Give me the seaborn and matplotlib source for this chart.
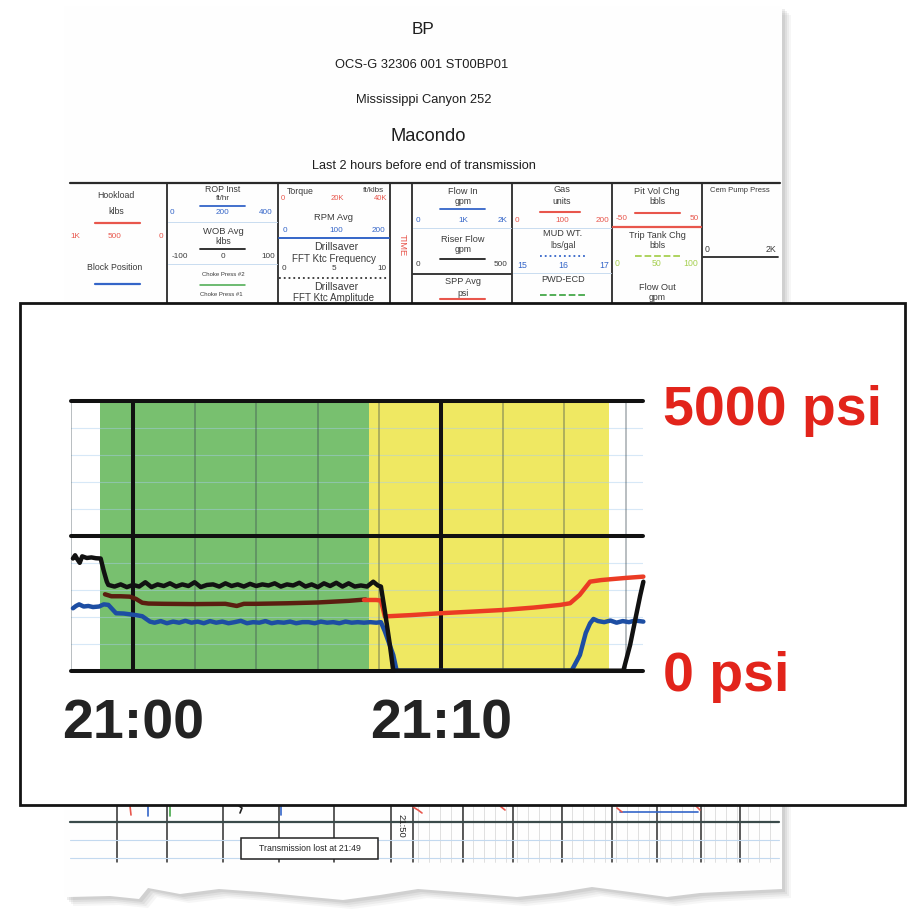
import numpy as np
import pandas as pd
import matplotlib
matplotlib.use("Agg")
import matplotlib.pyplot as plt
import matplotlib.transforms as mtransforms
import seaborn as sns
from matplotlib.patches import Rectangle, Polygon

# ------------------------------------------------------------------ data
# time in minutes relative to 21:00, pressure in psi
black_t = [-1.95, -1.88, -1.80, -1.73, -1.65, -1.50, -1.35, -1.20, -1.05, -0.95, -0.85,
           -0.80, -0.60, -0.40, -0.20, 0.00, 0.20, 0.40, 0.60, 0.80, 1.00, 1.20, 1.40,
           1.60, 1.80, 2.00, 2.20, 2.40, 2.60, 2.80, 3.00, 3.20, 3.40, 3.60, 3.80, 4.00,
           4.20, 4.40, 4.60, 4.80, 5.00, 5.20, 5.40, 5.60, 5.80, 6.00, 6.20, 6.40, 6.60,
           6.80, 7.00, 7.20, 7.40, 7.60, 7.80, 7.95, 8.05, 8.18, 8.34, 8.45,
           15.92, 16.14, 16.36, 16.47, 16.57]
black_p = [2080, 2140, 2060, 2000, 2120, 2090, 2100, 2085, 2080, 1850, 1650,
           1590, 1560, 1600, 1550, 1590, 1560, 1640, 1550, 1600, 1570, 1620, 1560,
           1600, 1570, 1640, 1550, 1590, 1600, 1560, 1620, 1570, 1600, 1560, 1610, 1570,
           1600, 1580, 1620, 1560, 1600, 1580, 1630, 1560, 1600, 1550, 1620, 1570, 1630,
           1560, 1620, 1560, 1580, 1560, 1650, 1580, 1560, 1094, 477, 0,
           0, 477, 1094, 1400, 1650]

brown_t = [-0.91, -0.70, -0.40, -0.10, 0.10, 0.30, 0.50, 1.00, 2.00, 3.00, 3.37, 3.60,
           4.00, 5.00, 6.00, 7.00, 7.55]
brown_p = [1417, 1380, 1380, 1373, 1330, 1260, 1245, 1240, 1235, 1240, 1200, 1240,
           1240, 1250, 1265, 1295, 1320]

red_t = [7.50, 7.90, 8.05, 8.18, 8.30, 9.00, 9.97, 11.00, 12.02, 13.00, 13.86, 14.19,
         14.50, 14.84, 15.20, 15.49, 16.00, 16.57]
red_p = [1311, 1311, 1300, 1002, 1010, 1030, 1065, 1095, 1126, 1170, 1219, 1250,
         1404, 1651, 1680, 1695, 1720, 1744]

blue_t = [-1.95, -1.85, -1.75, -1.60, -1.45, -1.30, -1.10, -0.95, -0.80, -0.55, -0.30,
          0.10, 0.30, 0.55, 0.70, 0.90, 1.10, 1.30, 1.50, 1.70, 1.90, 2.10, 2.30, 2.50,
          2.70, 2.90, 3.10, 3.30, 3.50, 3.70, 3.90, 4.10, 4.30, 4.50, 4.70, 4.90, 5.10,
          5.30, 5.50, 5.70, 5.90, 6.10, 6.30, 6.50, 6.70, 6.90, 7.10, 7.30, 7.50, 7.70,
          7.90, 8.05, 8.18, 8.45, 8.56, 14.24, 14.51, 14.70, 14.84, 14.95, 15.10, 15.30,
          15.50, 15.70, 15.90, 16.10, 16.30, 16.57]
blue_p = [1157, 1200, 1230, 1190, 1200, 1180, 1190, 1230, 1220, 1065, 1060,
          1030, 1010, 910, 890, 920, 880, 910, 890, 925, 890, 910, 880, 920,
          890, 910, 880, 900, 925, 880, 900, 890, 920, 880, 900, 890, 910,
          880, 900, 900, 880, 910, 890, 900, 880, 910, 890, 900, 890, 900,
          890, 900, 724, 291, 0, 0, 291, 700, 879, 959, 920, 900,
          930, 890, 920, 900, 930, 910]

green_phase = (-1.07, 7.66)
yellow_phase = (7.66, 15.45)
x_range = (-2.0, 16.55)
y_range = (0, 5000)
x_ticks = [0, 10]
x_tick_labels = ["21:00", "21:10"]
y_ticks = [0, 5000]
y_tick_labels = ["0 psi", "5000 psi"]

# ------------------------------------------------------------------ style
sns.set_style("white")
plt.rcParams['font.family'] = ['Liberation Sans', 'DejaVu Sans']
DOC = ['Liberation Sans', 'DejaVu Sans']

W, H = 909, 919
fig = plt.figure(figsize=(W / 100, H / 100), dpi=100)
fig.patch.set_facecolor('white')

bg = fig.add_axes([0, 0, 1, 1])
bg.set_xlim(0, W)
bg.set_ylim(H, 0)
bg.axis('off')

# ---- page with torn bottom edge and shadow
torn = [(782, 889), (740, 891), (700, 893), (667, 897), (630, 892), (592, 887),
        (555, 893), (517, 897), (470, 893), (418, 889), (380, 895), (343, 900),
        (300, 896), (260, 892), (219, 889), (180, 894), (148, 888), (139, 899),
        (110, 896), (70, 897), (64, 897)]
page = [(64, 6), (782, 6)] + torn
for k, a in [(9, 0.06), (7, 0.08), (5, 0.10), (3, 0.12)]:
    bg.add_patch(Polygon([(x + k, y + k) for x, y in page], closed=True,
                         fc='#6d6d6d', ec='none', alpha=a, zorder=0))
bg.add_patch(Polygon(page, closed=True, fc='#fefefe', ec='none', zorder=1))

TXT = '#3b3b3b'
# ---- titles
titles = [("BP", 423, 29, 12.3), ("OCS-G 32306 001 ST00BP01", 422, 65.5, 9.3),
          ("Mississippi Canyon 252", 424, 100, 9.3), ("Macondo", 428, 136.5, 13.2),
          ("Last 2 hours before end of transmission", 424, 166, 9.2)]
for s, x, y, fs in titles:
    bg.text(x, y, s, ha='center', va='center', fontsize=fs, color='#1e1e1e',
            family=DOC, zorder=2)

# ---- header table
bg.plot([70, 780], [183, 183], color='#2a2a2a', lw=1.6, zorder=2)
for x in [167, 278, 390, 412, 512, 612, 702]:
    bg.plot([x, x], [183, 305], color='#2a2a2a', lw=1.3, zorder=2)
RED, BLU, GRN, LGRN = '#e8564c', '#3465c8', '#46a84a', '#a7d052'
SC = 0.84
hdr = [
    ("Hookload", 116, 195, TXT, 7.5), ("klbs", 116, 211, TXT, 7.5),
    ("1K", 75, 237, RED, 7), ("500", 115, 237, RED, 7), ("0", 161, 237, RED, 7),
    ("Block Position", 115, 267, TXT, 7.5),
    ("ROP Inst", 223, 189, TXT, 7.5), ("ft/hr", 223, 198, TXT, 7),
    ("0", 172, 213, BLU, 7), ("200", 223, 213, BLU, 7), ("400", 266, 213, BLU, 7),
    ("WOB Avg", 223, 232, TXT, 8), ("klbs", 223, 241, TXT, 7.5),
    ("-100", 180, 256, TXT, 7), ("0", 223, 256, TXT, 7), ("100", 268, 256, TXT, 7),
    ("Choke Press #2", 223, 275, TXT, 5.2), ("Choke Press #1", 221, 295, TXT, 5.2),
    ("RPM Avg", 334, 217, TXT, 8),
    ("0", 285, 230, BLU, 7), ("100", 336, 230, BLU, 7), ("200", 378, 230, BLU, 7),
    ("Drillsaver", 336, 247, TXT, 9), ("FFT Ktc Frequency", 334, 259, TXT, 8.5),
    ("0", 284, 269, TXT, 7), ("5", 334, 269, TXT, 7), ("10", 382, 269, TXT, 7),
    ("Drillsaver", 336, 287, TXT, 9), ("FFT Ktc Amplitude", 334, 298, TXT, 8.5),
    ("0", 283, 199, RED, 6.5), ("20K", 337, 199, RED, 6.5), ("40K", 381, 199, RED, 6.5),
    ("Torque", 300, 191, TXT, 7.5), ("ft/klbs", 373, 191, TXT, 7),
    ("Flow In", 463, 191, TXT, 7.8), ("gpm", 463, 201, TXT, 7.5),
    ("0", 418, 220, BLU, 7), ("1K", 463, 220, BLU, 7), ("2K", 503, 220, BLU, 7),
    ("Riser Flow", 463, 240, TXT, 7.8), ("gpm", 463, 250, TXT, 7.5),
    ("0", 418, 265, TXT, 7), ("500", 501, 265, TXT, 7),
    ("SPP Avg", 463, 281, TXT, 7.8), ("psi", 463, 293, TXT, 7.5),
    ("Gas", 562, 190, TXT, 7.8), ("units", 562, 202, TXT, 7.5),
    ("0", 517, 220, RED, 7), ("100", 562, 220, RED, 7), ("200", 602, 220, RED, 7),
    ("MUD WT.", 563, 234, TXT, 7.8), ("lbs/gal", 563, 245, TXT, 7.5),
    ("15", 522, 265, BLU, 7.5), ("16", 563, 265, BLU, 7.5), ("17", 604, 265, BLU, 7.5),
    ("PWD-ECD", 563, 280, TXT, 7.8),
    ("Pit Vol Chg", 657, 191, TXT, 7.8), ("bbls", 657, 202, TXT, 7.5),
    ("-50", 622, 218, RED, 7), ("50", 694, 218, RED, 7),
    ("Trip Tank Chg", 657, 235, TXT, 7.8), ("bbls", 657, 246, TXT, 7.5),
    ("0", 617, 263, LGRN, 7.5), ("50", 657, 263, LGRN, 7.5), ("100", 691, 263, LGRN, 7.5),
    ("Flow Out", 657, 287, TXT, 7.8), ("gpm", 657, 298, TXT, 7.5),
    ("Cem Pump Press", 740, 190, TXT, 6.6), ("0", 707, 250, TXT, 7.5), ("2K", 771, 250, TXT, 7.5),
]
for s, x, y, c, fs in hdr:
    bg.text(x, y, s, ha='center', va='center', fontsize=fs * SC, color=c,
            family=DOC, zorder=2)
bg.text(402, 245, "TIME", ha='center', va='center', fontsize=8 * SC, color=RED,
        rotation=-90, family=DOC, zorder=2)

hlines = [  # (x0, x1, y, color, lw, style)
    (95, 140, 223, RED, 1.6, '-'), (95, 140, 284, BLU, 1.6, '-'),
    (200, 245, 206, BLU, 1.3, '-'), (168, 277, 222, '#c9dcf0', 0.7, '-'),
    (200, 245, 249, '#222222', 1.3, '-'), (168, 277, 264, '#c9dcf0', 0.7, '-'),
    (200, 245, 285, GRN, 1.1, '-'),
    (279, 389, 238, BLU, 1.4, '-'), (279, 389, 278, '#333333', 1.3, ':'),
    (440, 485, 209, BLU, 1.3, '-'), (413, 511, 228, '#c9dcf0', 0.7, '-'),
    (440, 485, 259, '#222222', 1.3, '-'), (413, 511, 274, '#2a2a2a', 1.3, '-'),
    (440, 485, 299, RED, 1.5, '-'),
    (540, 580, 212, RED, 1.5, '-'), (513, 611, 228, '#c9dcf0', 0.7, '-'),
    (540, 585, 256, BLU, 1.3, ':'), (513, 611, 273, '#c9dcf0', 0.7, '-'),
    (540, 585, 295, GRN, 1.3, '--'),
    (635, 680, 213, RED, 1.5, '-'), (613, 701, 227, RED, 1.6, '-'),
    (635, 680, 256, LGRN, 1.3, '--'), (703, 778, 257, '#2a2a2a', 1.3, '-'),
]
for x0, x1, y, c, lw, ls in hlines:
    bg.plot([x0, x1], [y, y], color=c, lw=lw, ls=ls, zorder=2)

# ---- document chart grid visible below the inset
for x in np.arange(418, 780, 11):
    bg.plot([x, x], [805, 862], color='#d4d4d4', lw=0.5, zorder=2)
for x in [117, 167, 223, 279, 334, 391, 413, 463, 513, 562, 612, 657, 701, 740]:
    bg.plot([x, x], [805, 862], color='#2e2e2e', lw=1.1, zorder=2)
bg.plot([70, 779], [822, 822], color='#3a4a4a', lw=1.6, zorder=2)
for y in [840, 858]:
    bg.plot([70, 779], [y, y], color='#c3d9ef', lw=0.8, zorder=2)
bg.add_patch(Rectangle((241, 838), 137, 21, fc='white', ec='#222222', lw=1.1, zorder=3))
bg.text(309.5, 848.5, "Transmission lost at 21:49", ha='center', va='center',
        fontsize=6.3, color='#262626', family=DOC, zorder=4)
bg.text(401, 826, "21:50", ha='center', va='center', fontsize=6.8, color='#262626',
        rotation=-90, family=DOC, zorder=4)
marks = [([130, 131], [806, 815], RED), ([148, 148], [806, 816], BLU),
         ([170, 170], [806, 816], GRN), ([239, 242, 240], [806, 808, 813], '#222222'),
         ([281, 281], [806, 815], BLU), ([413, 418, 422], [807, 810, 813], RED),
         ([500, 505], [806, 810], RED), ([620, 698], [812, 812], BLU),
         ([617, 622], [808, 812], RED), ([696, 700], [806, 810], RED)]
for xs, ys, c in marks:
    bg.plot(xs, ys, color=c, lw=1.2, zorder=2)

# ---- inset frame
bg.add_patch(Rectangle((20, 303), 885, 502, fc='white', ec='#141414', lw=2.0, zorder=10))

# ------------------------------------------------------------------ main chart
PX = 30.8  # pixels per minute
left_px = 133 + x_range[0] * PX
width_px = (x_range[1] - x_range[0]) * PX
top_px, bot_px = 401.0, 670.7
ax = fig.add_axes([left_px / W, (H - bot_px) / H, width_px / W, (bot_px - top_px) / H])
ax.set_facecolor('white')
ax.patch.set_alpha(0)
for sp in ax.spines.values():
    sp.set_visible(False)
ax.set_xlim(*x_range)
ax.set_ylim(*y_range)

ax.axvspan(*green_phase, color='#78c06f', lw=0, zorder=1)
ax.axvspan(*yellow_phase, color='#efe862', lw=0, zorder=1)

for yv in np.arange(500, 5000, 500):
    if yv != 2500:
        ax.axhline(yv, color='#a8cdee', lw=0.8, alpha=0.45, zorder=2)
for xv in np.arange(-2, 17, 2):
    if xv not in (0, 10):
        ax.axvline(xv, color='#3a4a50', lw=1.2, alpha=0.42, zorder=2)
for yv in [0, 2500, 5000]:
    ax.axhline(yv, color='#111111', lw=2.9, zorder=3, clip_on=False)
for xv in x_ticks:
    ax.axvline(xv, color='#111111', lw=2.9, zorder=3)

series = [(brown_t, brown_p, '#5a1e10'), (red_t, red_p, '#eb3b24'),
          (blue_t, blue_p, '#1d4ea3'), (black_t, black_p, '#111111')]
for i, (tt, pp, c) in enumerate(series):
    df = pd.DataFrame({'t': tt, 'p': pp})
    sns.lineplot(data=df, x='t', y='p', ax=ax, color=c, lw=3.2, sort=False,
                 estimator=None, zorder=4 + i, clip_on=False)

ax.set_xlabel('')
ax.set_ylabel('')
ax.set_xticks(x_ticks)
ax.set_xticklabels(x_tick_labels, fontweight='bold')
ax.tick_params(axis='x', length=0, pad=20, labelsize=40, labelcolor='#232323')
ax.yaxis.tick_right()
ax.set_yticks(y_ticks)
ax.set_yticklabels(y_tick_labels, fontweight='bold')
ax.tick_params(axis='y', length=0, pad=14.5, labelsize=40, labelcolor='#e2241b')
# nudge the upper label slightly down, as in the original
top_lab = ax.get_yticklabels()[1]
top_lab.set_transform(top_lab.get_transform() +
                      mtransforms.ScaledTranslation(0, -4 / 100, fig.dpi_scale_trans))
ax.grid(False)

fig.savefig('out.png', dpi=100, facecolor='white')
